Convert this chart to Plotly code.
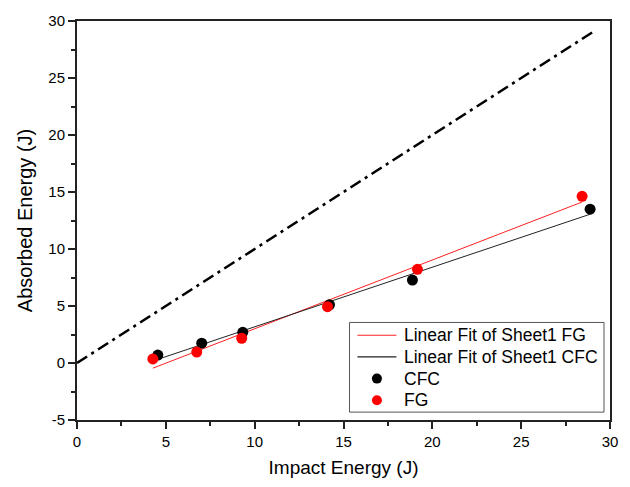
import numpy as np
import plotly.graph_objects as go

# Measured impact vs absorbed energy (J)
cfc_impact = [4.55, 7.02, 9.33, 14.21, 18.88, 28.88]
cfc_absorbed = [0.70, 1.74, 2.69, 5.11, 7.27, 13.49]

fg_impact = [4.27, 6.74, 9.27, 14.10, 19.16, 28.43]
fg_absorbed = [0.36, 0.96, 2.17, 4.94, 8.22, 14.62]

# Reference line: absorbed = impact
ref_x = [0, 29.2]
ref_y = [0, 29.2]

x_ticks = [0, 5, 10, 15, 20, 25, 30]
y_ticks = [-5, 0, 5, 10, 15, 20, 25, 30]
y_tick_text = ["-5", "0", "5", "10", "15", "20", "25", "30"]

legend_labels = ["Linear Fit of Sheet1 FG", "Linear Fit of Sheet1 CFC", "CFC", "FG"]
legend_kinds = ["line", "line", "marker", "marker"]

FG_COLOR = "#ff0000"
FG_FIT_COLOR = "#ff2020"
CFC_COLOR = "#000000"
CFC_FIT_COLOR = "#222222"
legend_colors = [FG_FIT_COLOR, CFC_FIT_COLOR, CFC_COLOR, FG_COLOR]


def linear_fit(x, y):
    slope, intercept = np.polyfit(x, y, 1)
    xs = np.array([min(x), max(x)])
    return xs, slope * xs + intercept


fg_fit_x, fg_fit_y = linear_fit(fg_impact, fg_absorbed)
cfc_fit_x, cfc_fit_y = linear_fit(cfc_impact, cfc_absorbed)

font = "Liberation Sans, Arial, sans-serif"

fig = go.Figure()

fig.add_trace(go.Scatter(
    x=ref_x, y=ref_y, mode="lines", showlegend=False,
    line=dict(color="black", width=2.6, dash="12px,5px,3px,5px"),
))
fig.add_trace(go.Scatter(
    x=fg_fit_x, y=fg_fit_y, mode="lines", name=legend_labels[0], showlegend=False,
    line=dict(color=FG_FIT_COLOR, width=1),
))
fig.add_trace(go.Scatter(
    x=cfc_fit_x, y=cfc_fit_y, mode="lines", name=legend_labels[1], showlegend=False,
    line=dict(color=CFC_FIT_COLOR, width=1),
))
fig.add_trace(go.Scatter(
    x=cfc_impact, y=cfc_absorbed, mode="markers", name=legend_labels[2], showlegend=False,
    marker=dict(color=CFC_COLOR, size=11, line=dict(width=0)),
))
fig.add_trace(go.Scatter(
    x=fg_impact, y=fg_absorbed, mode="markers", name=legend_labels[3], showlegend=False,
    marker=dict(color=FG_COLOR, size=11, line=dict(width=0)),
))

axis_common = dict(
    showline=True, linecolor="#222222", linewidth=2, mirror=True,
    showgrid=False, zeroline=False,
    ticks="outside", ticklen=7, tickwidth=1.5, tickcolor="#222222",
    tickfont=dict(family=font, size=15, color="black"),
    minor=dict(ticks="outside", ticklen=4, tickwidth=1.5, tickcolor="#222222", dtick=2.5),
)

fig.update_xaxes(
    range=[0, 30], tickvals=x_ticks, **axis_common,
    title=dict(text="Impact Energy (J)", font=dict(family=font, size=19, color="black"), standoff=12),
)
fig.update_yaxes(
    range=[-5, 30], tickvals=y_ticks, ticktext=y_tick_text, **axis_common,
    title=dict(text="Absorbed Energy (J)", font=dict(family=font, size=20, color="black"), standoff=10),
)

# Framed legend box in the lower-right corner of the plot area (paper coordinates)
W, H = 630, 487
ML, MR, MT, MB = 77, 19, 16, 66
plot_w, plot_h = W - ML - MR, H - MT - MB


def px_x(px):
    return (px - ML) / plot_w


def px_y(py):
    return (H - MB - py) / plot_h


box_left, box_right, box_top, box_bottom = 350, 605, 322, 413
row_top, row_step = 335, 22
sample_left, sample_right, text_left = 358, 397, 403

shapes = [dict(
    type="rect", xref="paper", yref="paper",
    x0=px_x(box_left), x1=px_x(box_right), y0=px_y(box_bottom), y1=px_y(box_top),
    line=dict(color="#555555", width=1), fillcolor="white", layer="above",
)]
annotations = []
for i, (label, kind, color) in enumerate(zip(legend_labels, legend_kinds, legend_colors)):
    cy = row_top + i * row_step
    if kind == "line":
        shapes.append(dict(
            type="line", xref="paper", yref="paper",
            x0=px_x(sample_left), x1=px_x(sample_right), y0=px_y(cy), y1=px_y(cy),
            line=dict(color=color, width=1.2), layer="above",
        ))
    else:
        cx = px_x((sample_left + sample_right) / 2)
        shapes.append(dict(
            type="circle", xref="paper", yref="paper",
            xsizemode="pixel", ysizemode="pixel", xanchor=cx, yanchor=px_y(cy),
            x0=-5, x1=5, y0=-5, y1=5,
            line=dict(width=0), fillcolor=color, layer="above",
        ))
    annotations.append(dict(
        text=label, xref="paper", yref="paper", x=px_x(text_left), y=px_y(cy),
        xanchor="left", yanchor="middle", showarrow=False,
        font=dict(family=font, size=17.5, color="black"),
    ))

fig.update_layout(
    width=W, height=H,
    margin=dict(l=ML, r=MR, t=MT, b=MB),
    plot_bgcolor="white", paper_bgcolor="white",
    showlegend=False,
    shapes=shapes, annotations=annotations,
)

fig.write_html("out.html")
